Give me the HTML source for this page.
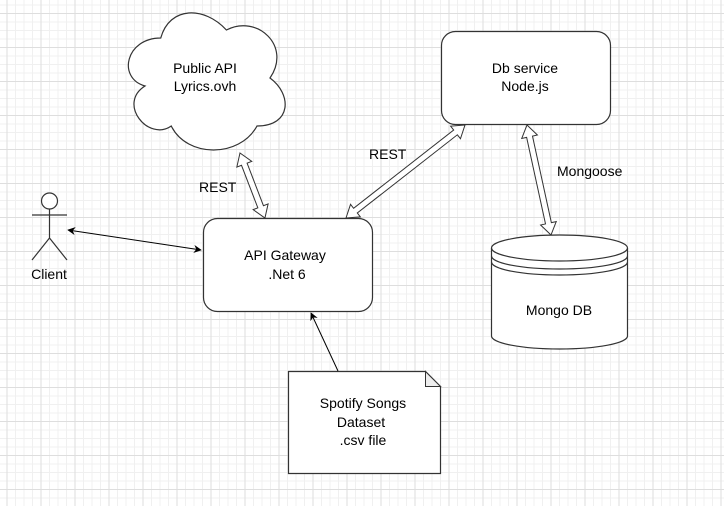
<!DOCTYPE html>
<html><head><meta charset="utf-8"><style>
html,body{margin:0;padding:0;background:#fff;}
svg{display:block;font-family:"Liberation Sans",Arial,sans-serif;}
</style></head><body>
<svg width="724" height="506" viewBox="0 0 724 506" xmlns="http://www.w3.org/2000/svg">
<defs>
<pattern id="minor" width="8.5" height="8.5" patternUnits="userSpaceOnUse" x="6.5" y="13">
<path d="M0 0.5H8.5M0.5 0V8.5" stroke="#f0f0f0" stroke-width="1" fill="none"/>
</pattern>
<pattern id="major" width="34" height="34" patternUnits="userSpaceOnUse" x="6.5" y="13">
<path d="M0 0.5H34M0.5 0V34" stroke="#dedede" stroke-width="1" fill="none"/>
</pattern>
<marker id="ah" viewBox="0 0 10 10" refX="9" refY="5" markerWidth="8" markerHeight="8" orient="auto-start-reverse" markerUnits="userSpaceOnUse">
<path d="M0 0L10 5L0 10L3 5Z" fill="#000"/>
</marker>
</defs>
<rect width="724" height="506" fill="url(#minor)"/>
<rect width="724" height="506" fill="url(#major)"/>

<!-- cloud -->
<path d="M160.75 38 C125.75 38 117 78 145 86 C117 103.6 148.5 142 171.25 126 C187 158 239.5 158 257 126 C292 126 292 94 270 78 C292 46 257 14 226.4 30 C204.5 6 169.5 6 160.75 38 Z" fill="#fff" stroke="#333" stroke-width="1.2"/>
<text x="205" y="73" font-size="14" text-anchor="middle">Public API</text>
<text x="205" y="91" font-size="14" text-anchor="middle">Lyrics.ovh</text>

<!-- Db service -->
<rect x="441.5" y="31.5" width="169" height="93" rx="14" fill="#fff" stroke="#333" stroke-width="1.2"/>
<text x="525" y="73" font-size="14" text-anchor="middle">Db service</text>
<text x="525" y="91" font-size="14" text-anchor="middle">Node.js</text>

<!-- API Gateway -->
<rect x="203.5" y="218.5" width="169" height="93" rx="14" fill="#fff" stroke="#333" stroke-width="1.2"/>
<text x="285" y="260" font-size="14" text-anchor="middle">API Gateway</text>
<text x="287" y="279" font-size="14" text-anchor="middle">.Net 6</text>

<!-- flexible double arrows -->
<g transform="translate(240,153) rotate(69)">
<polygon points="0,0 12,-8 12,-3 57.6,-3 57.6,-8 69.6,0 57.6,8 57.6,3 12,3 12,8" fill="#fff" stroke="#333" stroke-width="1"/>
</g>
<g transform="translate(346,218) rotate(-38)">
<polygon points="0,0 12,-8 12,-3 139,-3 139,-8 151,0 139,8 139,3 12,3 12,8" fill="#fff" stroke="#333" stroke-width="1"/>
</g>
<g transform="translate(527,125) rotate(77.7)">
<polygon points="0,0 12,-8 12,-3 100.6,-3 100.6,-8 112.6,0 100.6,8 100.6,3 12,3 12,8" fill="#fff" stroke="#333" stroke-width="1"/>
</g>
<text x="199" y="192" font-size="14">REST</text>
<text x="369" y="159" font-size="14">REST</text>
<text x="557" y="176" font-size="14">Mongoose</text>

<!-- client -->
<g stroke="#333" stroke-width="1.2" fill="#fff">
<circle cx="49.5" cy="201" r="8"/>
<path d="M49.5 209V238M32 215H67M49.5 238L32 260M49.5 238L67 260" fill="none"/>
</g>
<text x="49" y="279" font-size="14" text-anchor="middle">Client</text>
<line x1="68" y1="230" x2="201" y2="250" stroke="#000" stroke-width="1" marker-start="url(#ah)" marker-end="url(#ah)"/>

<!-- Mongo DB cylinder -->
<path d="M491.5 248 A68 13 0 0 1 627.5 248 V336 A68 13 0 0 1 491.5 336 Z" fill="#fff" stroke="#333" stroke-width="1.2"/>
<path d="M491.5 248 A68 13 0 0 0 627.5 248 M491.5 256 A68 13 0 0 0 627.5 256 M491.5 262 A68 13 0 0 0 627.5 262" fill="none" stroke="#333" stroke-width="1.2"/>
<text x="559" y="315" font-size="14" text-anchor="middle">Mongo DB</text>

<!-- note -->
<path d="M288.5 371.5H425.5L440.5 386.5V473.5H288.5Z" fill="#fff" stroke="#333" stroke-width="1.2"/>
<path d="M425.5 371.5V386.5H440.5Z" fill="#eee" stroke="#333" stroke-width="1"/>
<text x="363" y="408" font-size="14" text-anchor="middle">Spotify Songs</text>
<text x="361" y="427" font-size="14" text-anchor="middle">Dataset</text>
<text x="363" y="445" font-size="14" text-anchor="middle">.csv file</text>
<line x1="338" y1="371" x2="311" y2="313" stroke="#000" stroke-width="1" marker-end="url(#ah)"/>
</svg>
</body></html>
